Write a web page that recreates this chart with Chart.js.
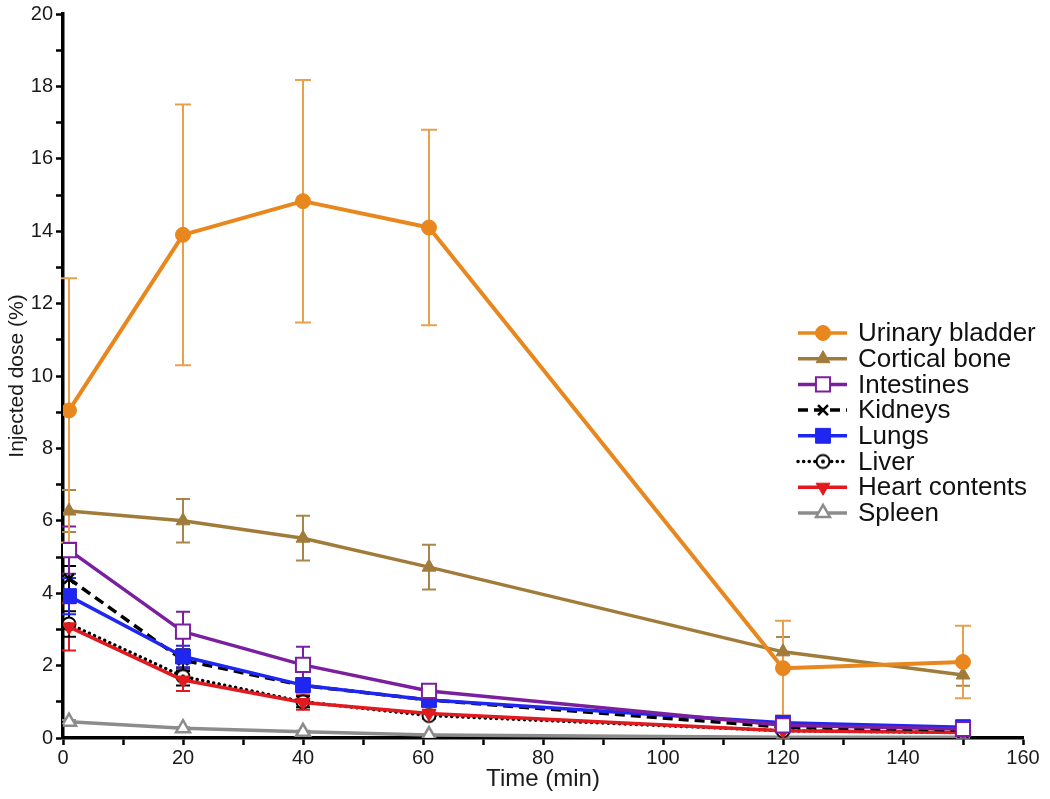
<!DOCTYPE html>
<html>
<head>
<meta charset="utf-8">
<script src="https://cdn.jsdelivr.net/npm/chart.js@4.4.1/dist/chart.umd.min.js"></script>
<style>
  html, body { margin: 0; padding: 0; background: #fff; }
  #wrap { width: 1050px; height: 799px; }
</style>
</head>
<body>
<div id="wrap"><canvas id="c" width="1050" height="799"></canvas></div>
<script>
// ---- Data ----
const times = [1, 20, 40, 61, 120, 150];
const seriesNames = ["Urinary bladder", "Cortical bone", "Intestines", "Kidneys", "Lungs", "Liver", "Heart contents", "Spleen"];
const bladder    = [9.05, 13.9, 14.83, 14.1, 1.93, 2.1];
const bladderErr = [3.65, 3.6, 3.35, 2.7, 1.31, 1.0];
const bone       = [6.27, 6.0, 5.52, 4.72, 2.38, 1.74];
const boneErr    = [0.58, 0.6, 0.62, 0.62, 0.41, 0.3];
const intestines    = [5.19, 2.94, 2.02, 1.3, 0.35, 0.25];
const intestinesErr = [0.65, 0.55, 0.5, 0.12, 0.05, 0.04];
const kidneys    = [4.4, 2.15, 1.45, 1.05, 0.3, 0.22];
const kidneysErr = [0.35, 0.3, 0.15, 0.1, 0.05, 0.03];
const lungs    = [3.92, 2.25, 1.46, 1.05, 0.42, 0.3];
const lungsErr = [0.5, 0.3, 0.2, 0.1, 0.05, 0.05];
const liver    = [3.15, 1.7, 1.0, 0.62, 0.2, 0.15];
const liverErr = [0.35, 0.25, 0.15, 0.08, 0.03, 0.02];
const heart    = [3.07, 1.6, 0.98, 0.68, 0.2, 0.15];
const heartErr = [0.65, 0.3, 0.2, 0.1, 0.03, 0.02];
const spleen    = [0.45, 0.27, 0.17, 0.08, 0.02, 0.02];
const spleenErr = [0.05, 0.03, 0.03, 0.02, 0.01, 0.01];
const xTickLabels = [0, 20, 40, 60, 80, 100, 120, 140, 160];
const yTickLabels = [0, 2, 4, 6, 8, 10, 12, 14, 16, 18, 20];

// ---- Styling ----
const FONT = "'Liberation Sans', Arial, Helvetica, sans-serif";
const toPts = (vals) => vals.map((v, i) => ({ x: times[i], y: v }));

function circleDotMarker() {
  const c = document.createElement('canvas');
  c.width = 18; c.height = 18;
  const g = c.getContext('2d');
  g.beginPath(); g.arc(9, 9, 6.5, 0, Math.PI * 2);
  g.fillStyle = '#fff'; g.fill();
  g.lineWidth = 2; g.strokeStyle = '#000'; g.stroke();
  g.beginPath(); g.arc(9, 9, 2, 0, Math.PI * 2);
  g.fillStyle = '#000'; g.fill();
  return c;
}
const liverMarker = circleDotMarker();

function ds(label, data, err, color, errColor, opts) {
  return Object.assign({
    label, data: toPts(data), err, errColor,
    borderColor: color, backgroundColor: color,
    pointBackgroundColor: color, pointBorderColor: color,
    borderWidth: 3.5, pointRadius: 7, pointBorderWidth: 1,
    pointHoverRadius: 7, tension: 0, fill: false
  }, opts || {});
}

const datasets = [
  ds(seriesNames[0], bladder, bladderErr, '#E8871E', '#E8A04E', { pointStyle: 'circle', pointRadius: 7.5, borderWidth: 4, capW: 16, order: 0 }),
  ds(seriesNames[1], bone, boneErr, '#A07B3A', '#A8854A', { pointStyle: 'triangle', pointRadius: 8, order: 1 }),
  ds(seriesNames[2], intestines, intestinesErr, '#7A1F9E', '#7A1F9E', { pointStyle: 'rect', pointRadius: 10, pointBackgroundColor: '#fff', pointBorderWidth: 2, order: 2 }),
  ds(seriesNames[3], kidneys, kidneysErr, '#000000', '#000000', { pointStyle: 'crossRot', pointRadius: 7, pointBorderWidth: 2.5, borderDash: [10, 6], order: 4 }),
  ds(seriesNames[4], lungs, lungsErr, '#1F26F0', '#1F26F0', { pointStyle: 'rect', pointRadius: 10.5, order: 3 }),
  ds(seriesNames[5], liver, liverErr, '#000000', '#000000', { pointStyle: liverMarker, pointRadius: 7, borderDash: [0.1, 5.5], borderCapStyle: 'round', order: 6 }),
  ds(seriesNames[6], heart, heartErr, '#E01A1E', '#E01A1E', { pointStyle: 'triangle', rotation: 180, pointRotation: 180, pointRadius: 8, order: 5 }),
  ds(seriesNames[7], spleen, spleenErr, '#8C8C8C', '#8C8C8C', { pointStyle: 'triangle', pointRadius: 8, pointBackgroundColor: '#fff', pointBorderWidth: 2.5, order: 7 })
];

// ---- Error bars plugin (uses the chart's own scales) ----
const errorBars = {
  id: 'errorBars',
  beforeDatasetsDraw(chart) {
    const { ctx, scales: { x, y } } = chart;
    ctx.save();
    for (let i = chart.data.datasets.length - 1; i >= 0; i--) {
      const d = chart.data.datasets[i];
      if (!d.err) continue;
      ctx.strokeStyle = d.errColor;
      ctx.lineWidth = 2;
      ctx.setLineDash([]);
      const half = (d.capW || 14) / 2;
      d.data.forEach((p, j) => {
        const e = d.err[j];
        const px = x.getPixelForValue(p.x);
        const top = y.getPixelForValue(p.y + e);
        const bot = y.getPixelForValue(Math.max(0, p.y - e));
        ctx.beginPath();
        ctx.moveTo(px, top); ctx.lineTo(px, bot);
        ctx.moveTo(px - half, top); ctx.lineTo(px + half, top);
        if (p.y - e > 0) { ctx.moveTo(px - half, bot); ctx.lineTo(px + half, bot); }
        ctx.stroke();
      });
    }
    ctx.restore();
  }
};

// ---- Custom legend ----
const legendPlugin = {
  id: 'customLegend',
  afterDraw(chart) {
    const { ctx } = chart;
    const x0 = 798, x1 = 847, xm = 823, tx = 858, y0 = 333, dy = 25.7;
    ctx.save();
    chart.data.datasets.forEach((d, i) => {
      const yy = y0 + i * dy;
      ctx.strokeStyle = d.borderColor;
      ctx.lineWidth = 3.5;
      ctx.lineCap = d.borderCapStyle || 'butt';
      ctx.setLineDash(d.borderDash || []);
      ctx.beginPath(); ctx.moveTo(x0, yy); ctx.lineTo(x1, yy); ctx.stroke();
      ctx.setLineDash([]);
      ctx.lineCap = 'butt';
      ctx.fillStyle = d.pointBackgroundColor;
      ctx.strokeStyle = d.pointBorderColor;
      ctx.lineWidth = d.pointBorderWidth;
      Chart.helpers.drawPoint(ctx, {
        pointStyle: d.pointStyle, rotation: d.pointRotation || 0,
        radius: d.pointRadius, borderWidth: d.pointBorderWidth
      }, xm, yy);
      ctx.fillStyle = '#111';
      ctx.font = '26px ' + FONT;
      ctx.textBaseline = 'middle';
      ctx.textAlign = 'left';
      ctx.fillText(d.label, tx, yy + 1);
    });
    ctx.restore();
  }
};

new Chart(document.getElementById('c'), {
  type: 'line',
  data: { datasets },
  options: {
    responsive: false,
    animation: false,
    events: [],
    layout: { padding: { top: 14, right: 27, bottom: 0, left: 0 } },
    plugins: { legend: { display: false }, tooltip: { enabled: false } },
    elements: { line: { borderJoinStyle: 'round' } },
    scales: {
      x: {
        type: 'linear', min: 0, max: 160,
        ticks: {
          stepSize: 10, autoSkip: false, maxRotation: 0, padding: 1,
          color: '#1a1a1a', font: { family: FONT, size: 20 },
          callback: (v) => xTickLabels.includes(v) ? String(v) : ''
        },
        grid: { drawOnChartArea: false, drawTicks: true, tickLength: 7, tickWidth: 2.5, tickColor: '#000' },
        border: { display: true, width: 3.5, color: '#000' },
        title: { display: true, text: 'Time (min)', color: '#1a1a1a', font: { family: FONT, size: 24 }, padding: { top: 0, bottom: 5 } },
        afterFit(s) { s.height = 61; s.paddingLeft = 0; s.paddingRight = 0; }
      },
      y: {
        type: 'linear', min: 0, max: 20,
        ticks: {
          stepSize: 1, autoSkip: false, padding: 3,
          color: '#1a1a1a', font: { family: FONT, size: 20 },
          callback: (v) => yTickLabels.includes(v) ? String(v) : ''
        },
        grid: { drawOnChartArea: false, drawTicks: true, tickLength: 7, tickWidth: 2.5, tickColor: '#000' },
        border: { display: true, width: 3.5, color: '#000' },
        title: { display: true, text: 'Injected dose (%)', color: '#1a1a1a', font: { family: FONT, size: 21 }, padding: { top: 5, bottom: 0 } },
        afterFit(s) { s.width = 63; s.paddingTop = 0; s.paddingBottom = 0; }
      }
    }
  },
  plugins: [errorBars, legendPlugin]
});
</script>
</body>
</html>
